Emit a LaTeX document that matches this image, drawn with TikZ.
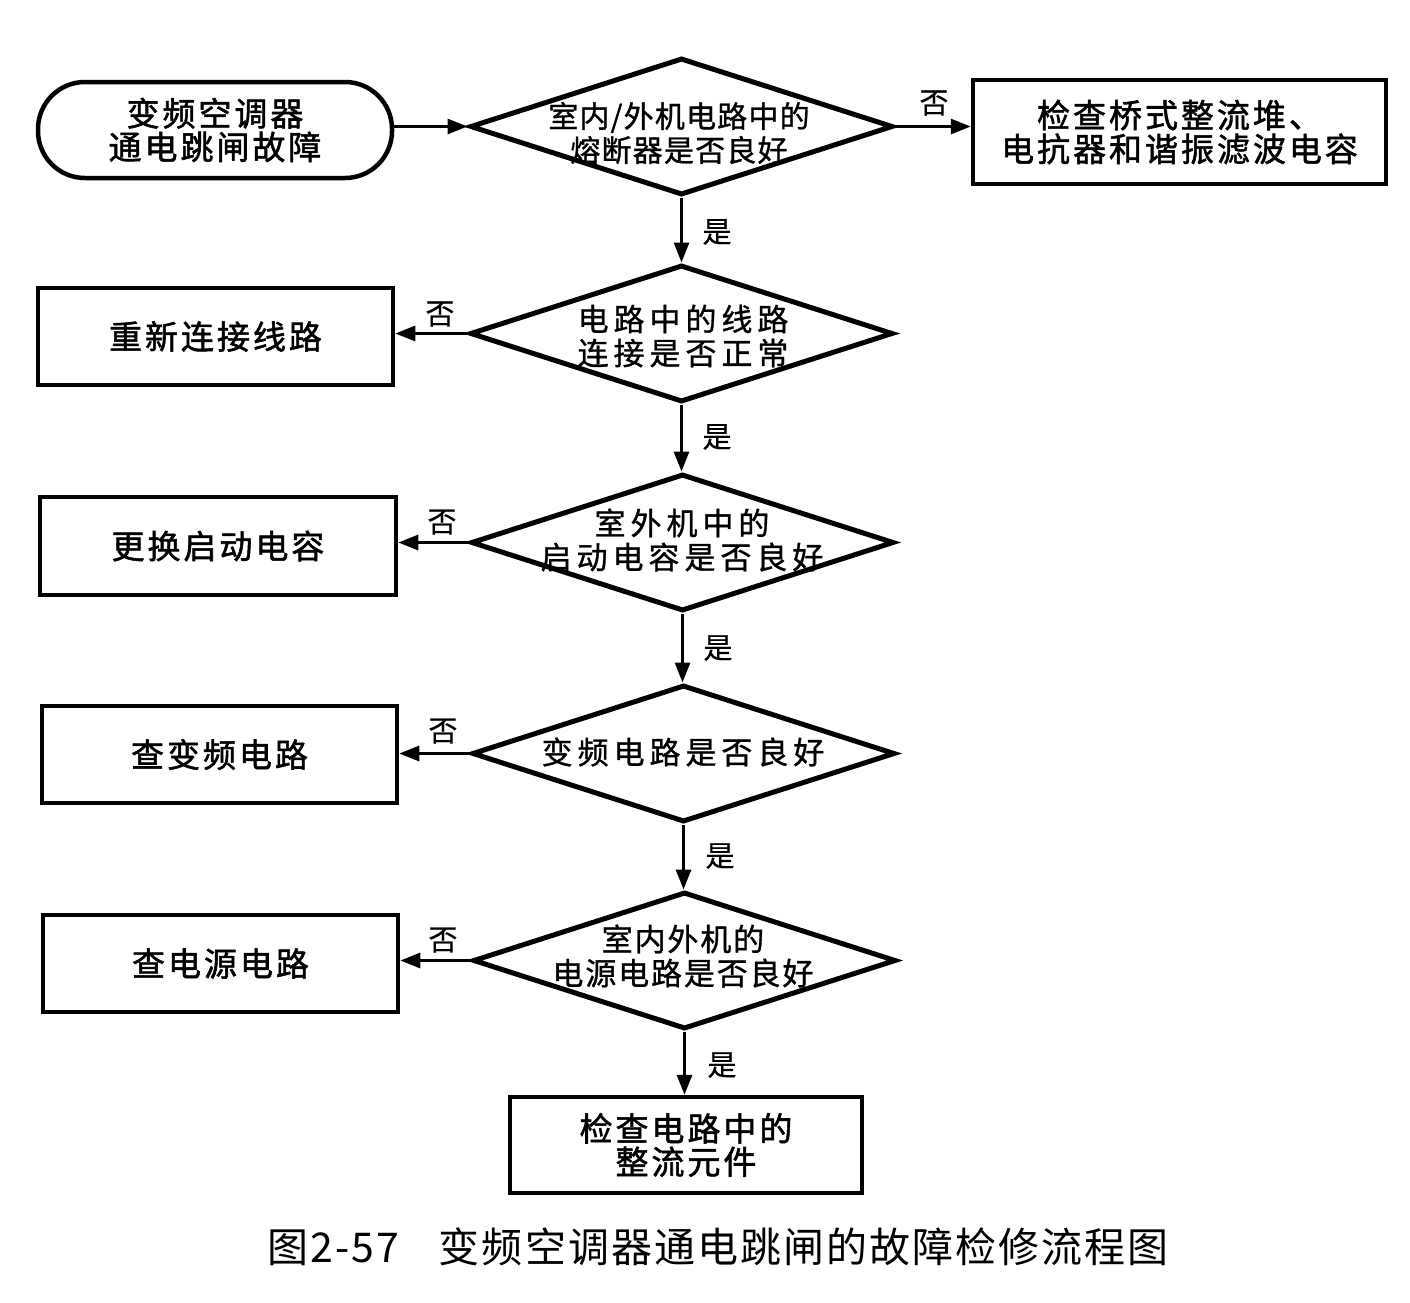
\documentclass[tikz,border=0pt]{standalone}
\usepackage{fontspec}
\setmainfont{Noto Sans CJK SC}
\usetikzlibrary{shapes.geometric,arrows.meta}
\begin{document}
\begin{tikzpicture}[x=1pt,y=-1pt,
  box/.style={draw,line width=4.5pt,minimum width=355pt,minimum height=97pt,inner sep=0pt,align=center,
    font=\fontsize{33}{35}\selectfont\addfontfeature{LetterSpace=9,FakeBold=1.6}},
  dia/.style={draw,diamond,line width=5pt,minimum width=423pt,minimum height=137pt,aspect=3.09,inner sep=0pt},
  dtext/.style={align=center,inner sep=0pt},
  conn/.style={line width=3pt,-{Triangle[length=20pt,width=15pt]}},
  lab/.style={inner sep=0pt,font=\fontsize{29}{29}\selectfont\addfontfeature{FakeBold=0.6}}]
\useasboundingbox (0,0) rectangle (1410,1302);
% nodes
\node[box,rounded corners=47pt,minimum width=354pt,minimum height=96pt] (start) at (215,130) {\raisebox{-4pt}{\shortstack{变频空调器\\[0pt]通电跳闸故障}}};
\node[dia] (d1) at (681.5,126.5) {};
\node[dtext,font=\fontsize{30}{34}\selectfont\addfontfeature{LetterSpace=4,FakeBold=1}] (t1) at (679,133) {室内/外机电路中的\\熔断器是否良好};
\node[box,minimum width=413pt,minimum height=104pt] (r1) at (1179.5,132) {\raisebox{-3pt}{\shortstack{检查桥式整流堆、\\[0pt]电抗器和谐振滤波电容}}};

\node[dia] (d2) at (681.5,333.5) {};
\node[dtext,font=\fontsize{31}{34}\selectfont\addfontfeature{LetterSpace=16,FakeBold=1}] (t2) at (683,336) {电路中的线路\\连接是否正常};
\node[box] (b2) at (215.5,336.5) {\raisebox{-4pt}{重新连接线路}};

\node[dia] (d3) at (682.5,542.5) {};
\node[dtext,font=\fontsize{31}{34}\selectfont\addfontfeature{LetterSpace=16,FakeBold=1}] (t3) at (682,540) {室外机中的\\启动电容是否良好};
\node[box,minimum width=356pt,minimum height=98pt] (b3) at (218,546) {\raisebox{-4pt}{更换启动电容}};

\node[dia] (d4) at (683.5,753.5) {};
\node[dtext,font=\fontsize{31}{34}\selectfont\addfontfeature{LetterSpace=16,FakeBold=1}] (t4) at (683,752) {变频电路是否良好};
\node[box] (b4) at (219.5,754.5) {\raisebox{-4pt}{查变频电路}};

\node[dia] (d5) at (684.5,960.5) {};
\node[dtext,font=\fontsize{31}{34}\selectfont\addfontfeature{LetterSpace=6,FakeBold=1}] (t5) at (683,956) {室内外机的\\电源电路是否良好};
\node[box] (b5) at (220.5,963.5) {\raisebox{-4pt}{查电源电路}};

\node[box,minimum width=352pt,minimum height=96pt] (fin) at (686,1145) {\raisebox{-3pt}{\shortstack{检查电路中的\\[0pt]整流元件}}};

\node[inner sep=0pt,font=\fontsize{41}{41}\selectfont\addfontfeature{LetterSpace=5}] (cap) at (718,1247) {图2-57\hspace{40pt}变频空调器通电跳闸的故障检修流程图};

% connectors
\draw[conn] (start.east |- d1.west) -- (d1.west);
\draw[conn] (d1.east) -- (d1.east -| r1.west);
\draw[conn] (d1.south) -- (d1.south |- d2.north);
\draw[conn] (d2.west) -- (d2.west -| b2.east);
\draw[conn] (d2.south) -- (d2.south |- d3.north);
\draw[conn] (d3.west) -- (d3.west -| b3.east);
\draw[conn] (d3.south) -- (d3.south |- d4.north);
\draw[conn] (d4.west) -- (d4.west -| b4.east);
\draw[conn] (d4.south) -- (d4.south |- d5.north);
\draw[conn] (d5.west) -- (d5.west -| b5.east);
\draw[conn] (d5.south) -- (d5.south |- fin.north);

% labels
\node[lab] (l1) at (934,103) {否};
\node[lab] (l2) at (717,232) {是};
\node[lab] (l3) at (440,314) {否};
\node[lab] (l4) at (717,437) {是};
\node[lab] (l5) at (442,522) {否};
\node[lab] (l6) at (718,648) {是};
\node[lab] (l7) at (443,731) {否};
\node[lab] (l8) at (720,856) {是};
\node[lab] (l9) at (443,940) {否};
\node[lab] (l10) at (722,1065) {是};
\end{tikzpicture}
\end{document}
